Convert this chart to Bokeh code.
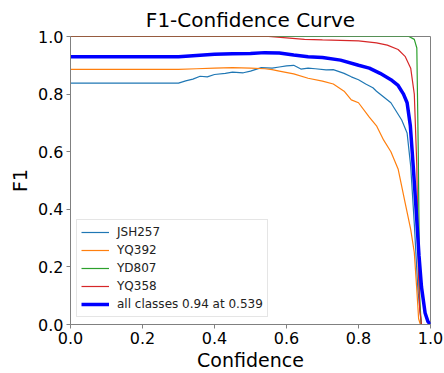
from bokeh.plotting import figure
from bokeh.models import Range1d, FixedTicker, Legend, LegendItem, PrintfTickFormatter
from bokeh.embed import file_html
from bokeh.resources import INLINE

# ---- data ----
conf_jsh257 = [0.0, 0.30, 0.32, 0.34, 0.36, 0.38, 0.40, 0.43, 0.45, 0.48, 0.50, 0.53, 0.56, 0.58, 0.60, 0.62,
               0.64, 0.66, 0.68, 0.71, 0.73, 0.76, 0.78, 0.80, 0.82, 0.84, 0.85, 0.87, 0.89, 0.90, 0.92, 0.935,
               0.945, 0.955, 0.965, 0.975]
f1_jsh257 = [0.838, 0.838, 0.846, 0.852, 0.862, 0.860, 0.868, 0.872, 0.876, 0.874, 0.880, 0.892, 0.890, 0.894,
             0.898, 0.900, 0.887, 0.890, 0.888, 0.884, 0.885, 0.872, 0.860, 0.850, 0.835, 0.822, 0.810, 0.790,
             0.770, 0.750, 0.710, 0.665, 0.550, 0.350, 0.120, 0.0]

conf_yq392 = [0.0, 0.30, 0.35, 0.40, 0.45, 0.50, 0.54, 0.56, 0.58, 0.62, 0.66, 0.70, 0.73, 0.76, 0.78, 0.80,
              0.83, 0.85, 0.87, 0.89, 0.91, 0.93, 0.945, 0.955, 0.962, 0.967, 0.972]
f1_yq392 = [0.886, 0.886, 0.888, 0.890, 0.892, 0.890, 0.888, 0.885, 0.880, 0.870, 0.855, 0.845, 0.835, 0.810,
            0.780, 0.770, 0.720, 0.690, 0.640, 0.600, 0.540, 0.420, 0.330, 0.250, 0.120, 0.020, 0.0]

conf_yd807 = [0.0, 0.94, 0.955, 0.962, 0.966, 0.970, 0.974]
f1_yd807 = [1.0, 1.0, 0.99, 0.96, 0.60, 0.10, 0.0]

conf_yq358 = [0.0, 0.55, 0.60, 0.65, 0.70, 0.80, 0.85, 0.88, 0.91, 0.93, 0.945, 0.955, 0.962, 0.966, 0.970, 0.975]
f1_yq358 = [1.0, 1.0, 0.995, 0.990, 0.988, 0.985, 0.978, 0.970, 0.955, 0.930, 0.890, 0.800, 0.550, 0.200, 0.050, 0.0]

conf_all = [0.0, 0.30, 0.35, 0.40, 0.45, 0.50, 0.539, 0.58, 0.62, 0.66, 0.70, 0.75, 0.80, 0.83, 0.86, 0.89,
            0.91, 0.925, 0.935, 0.944, 0.952, 0.96, 0.968, 0.975, 0.985, 0.993, 1.0]
f1_all = [0.930, 0.930, 0.934, 0.938, 0.940, 0.941, 0.944, 0.943, 0.936, 0.930, 0.927, 0.918, 0.900, 0.890,
          0.872, 0.850, 0.830, 0.800, 0.770, 0.690, 0.550, 0.400, 0.240, 0.130, 0.040, 0.010, 0.0]

tick_values = [0.0, 0.2, 0.4, 0.6, 0.8, 1.0]
labels = ["JSH257", "YQ392", "YD807", "YQ358", "all classes 0.94 at 0.539"]
colors = ["#1f77b4", "#ff7f0e", "#2ca02c", "#d62728", "#0000ff"]

FONT = "DejaVu Sans"

p = figure(width=444, height=373, output_backend="svg", toolbar_location=None,
           x_range=Range1d(0, 1), y_range=Range1d(0, 1),
           min_border_left=70, min_border_right=14, min_border_top=35, min_border_bottom=45)

p.title.text = "F1-Confidence Curve"
p.title.text_font = FONT
p.title.text_font_size = "20px"
p.title.text_font_style = "normal"
p.title.align = "center"
p.title.text_color = "#000000"

p.xgrid.visible = False
p.ygrid.visible = False
p.outline_line_color = "#808080"
p.outline_line_width = 1

for ax in (p.xaxis[0], p.yaxis[0]):
    ax.ticker = FixedTicker(ticks=tick_values)
    ax.formatter = PrintfTickFormatter(format="%.1f")
    ax.major_label_text_font = FONT
    ax.major_label_text_font_size = "16px"
    ax.major_label_text_color = "#000000"
    ax.axis_label_text_font = FONT
    ax.axis_label_text_font_size = "19px"
    ax.axis_label_text_font_style = "normal"
    ax.axis_label_text_color = "#000000"
    ax.axis_line_color = "#808080"
    ax.major_tick_line_color = "#808080"
    ax.major_tick_out = 4
    ax.major_tick_in = 0
    ax.minor_tick_line_color = None
    ax.major_label_standoff = 3

p.xaxis.axis_label = "Confidence"
p.yaxis.axis_label = "F1"
p.yaxis.axis_label_standoff = 4
p.xaxis.axis_label_standoff = 2

series = [(conf_jsh257, f1_jsh257), (conf_yq392, f1_yq392), (conf_yd807, f1_yd807),
          (conf_yq358, f1_yq358), (conf_all, f1_all)]
items = []
for i, (xs, ys) in enumerate(series):
    w = 3.5 if i == 4 else 1.2
    r = p.line(xs, ys, line_color=colors[i], line_width=w)
    items.append(LegendItem(label=labels[i], renderers=[r]))

legend = Legend(items=items, location=(6, 7))
legend.label_text_font = FONT
legend.label_text_font_size = "12px"
legend.label_text_color = "#222222"
legend.glyph_width = 28
legend.glyph_height = 16
legend.label_height = 16
legend.spacing = 2
legend.padding = 4
legend.margin = 0
legend.label_standoff = 8
legend.border_line_color = "#cccccc"
legend.border_line_width = 1
legend.background_fill_alpha = 0.9
p.add_layout(legend, "center")

open("out.html", "w").write(file_html(p, INLINE))
